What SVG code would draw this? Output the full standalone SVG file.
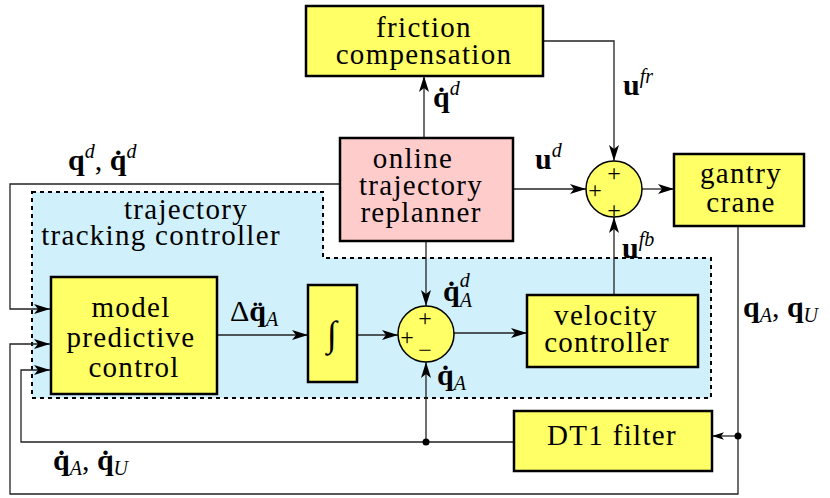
<svg xmlns="http://www.w3.org/2000/svg" width="830" height="498" viewBox="0 0 830 498">
<style>
.box{fill:#ffff66;stroke:#000;stroke-width:2.5}
.pink{fill:#ffcccc}
.sum{fill:#ffff66;stroke:#000;stroke-width:1.5}
.ln{fill:none;stroke:#222;stroke-width:1.3}
text{font-family:'Liberation Serif','Times New Roman',serif}
.t{font-size:29px;letter-spacing:1.3px;text-anchor:middle;fill:#000}
.m{font-size:30px;fill:#000}
.b{font-weight:bold}
.i{font-style:italic;font-size:20px}
.pm{font-size:24px;text-anchor:middle;fill:#000}
</style>
<defs>
<marker id="ar" viewBox="0 0 16 10" refX="16" refY="5" markerWidth="16" markerHeight="10" markerUnits="userSpaceOnUse" orient="auto"><path d="M0,0 L16,5 L0,10 L4,5 z" fill="#000"/></marker>
<marker id="ars" viewBox="0 0 16 10" refX="16" refY="5" markerWidth="12" markerHeight="8" markerUnits="userSpaceOnUse" orient="auto"><path d="M0,0 L16,5 L0,10 L4,5 z" fill="#000"/></marker>
</defs>
<g id="tracking-controller">
<path d="M32,192 H323 V258 H711 V398 H32 Z" fill="#d0f0fc" stroke="#000" stroke-width="2" stroke-dasharray="4 4"/>
<text class="t" x="186" y="219">trajectory</text>
<text class="t" x="161" y="245">tracking controller</text>
</g>
<g id="connectors">
<path class="ln" d="M424,138 V76" marker-end="url(#ar)"/>
<path class="ln" d="M543,41 H614 V161" marker-end="url(#ar)"/>
<path class="ln" d="M513,189 H586" marker-end="url(#ar)"/>
<path class="ln" d="M642,189 H674" marker-end="url(#ar)"/>
<path class="ln" d="M614,295 V217" marker-end="url(#ar)"/>
<path class="ln" d="M426,241 V306" marker-end="url(#ar)"/>
<path class="ln" d="M217,335 H308" marker-end="url(#ar)"/>
<path class="ln" d="M357,335 H398" marker-end="url(#ar)"/>
<path class="ln" d="M454,333 H527" marker-end="url(#ar)"/>
<path class="ln" d="M738,226 V494 H10 V344 H50" marker-end="url(#ar)"/>
<path class="ln" d="M738,436 H712" marker-end="url(#ars)"/>
<path class="ln" d="M514,442 H21 V370 H50" marker-end="url(#ar)"/>
<path class="ln" d="M426,442 V362" marker-end="url(#ar)"/>
<path class="ln" d="M340,184 H10 V309 H50" marker-end="url(#ar)"/>
<circle cx="738" cy="436" r="3.5" fill="#000"/>
<circle cx="426" cy="442" r="3.5" fill="#000"/>
</g>
<g id="friction-compensation">
<rect class="box" x="306" y="6" width="237" height="70"/>
<text class="t" x="424" y="37">friction</text>
<text class="t" x="424" y="64">compensation</text>
</g>
<g id="online-trajectory-replanner">
<rect class="box pink" x="340" y="138" width="173" height="103"/>
<text class="t" x="413" y="168">online</text>
<text class="t" x="421" y="195">trajectory</text>
<text class="t" x="421" y="222">replanner</text>
</g>
<g id="sum-top">
<circle class="sum" cx="614" cy="189" r="28"/>
<text class="pm" x="614" y="181">+</text>
<text class="pm" x="595" y="198">+</text>
<text class="pm" x="614" y="218">+</text>
</g>
<g id="gantry-crane">
<rect class="box" x="674" y="154" width="130" height="72"/>
<text class="t" x="741" y="183">gantry</text>
<text class="t" x="741" y="212">crane</text>
</g>
<g id="model-predictive-control">
<rect class="box" x="51" y="277" width="166" height="117"/>
<text class="t" x="131" y="317">model</text>
<text class="t" x="131" y="347">predictive</text>
<text class="t" x="134" y="377">control</text>
</g>
<g id="integrator">
<rect class="box" x="308" y="285" width="49" height="97"/>
<text x="332" y="346" font-size="36" text-anchor="middle" font-style="italic">∫</text>
</g>
<g id="sum-bottom">
<circle class="sum" cx="426" cy="334" r="28"/>
<text class="pm" x="425" y="326">+</text>
<text class="pm" x="407" y="345">+</text>
<text class="pm" x="425" y="358">−</text>
</g>
<g id="velocity-controller">
<rect class="box" x="527" y="295" width="171" height="72"/>
<text class="t" x="606" y="325">velocity</text>
<text class="t" x="607" y="352">controller</text>
</g>
<g id="dt1-filter">
<rect class="box" x="514" y="411" width="198" height="60"/>
<text class="t" x="612" y="445">DT1 filter</text>
</g>
<g id="labels">
<text class="m" x="68" y="170"><tspan class="b">q</tspan><tspan class="i" dy="-12">d</tspan><tspan dy="12">, </tspan><tspan class="b">q̇</tspan><tspan class="i" dy="-12">d</tspan></text>
<text class="m" x="433" y="107"><tspan class="b">q̇</tspan><tspan class="i" dy="-12">d</tspan></text>
<text class="m" x="623" y="95"><tspan class="b">u</tspan><tspan class="i" dy="-12">fr</tspan></text>
<text class="m" x="535" y="169"><tspan class="b">u</tspan><tspan class="i" dy="-12">d</tspan></text>
<text class="m" x="622" y="258"><tspan class="b">u</tspan><tspan class="i" dy="-12">fb</tspan></text>
<text class="m" x="230" y="321">Δ<tspan class="b">q̈</tspan><tspan class="i" dy="5">A</tspan></text>
<text class="m" x="443" y="301"><tspan class="b">q̇</tspan><tspan class="i" dy="-14">d</tspan><tspan class="i" dx="-10" dy="20">A</tspan></text>
<text class="m" x="437" y="385"><tspan class="b">q̇</tspan><tspan class="i" dy="5">A</tspan></text>
<text class="m" x="743" y="317"><tspan class="b">q</tspan><tspan class="i" dy="5">A</tspan><tspan dy="-5">, </tspan><tspan class="b">q</tspan><tspan class="i" dy="5">U</tspan></text>
<text class="m" x="53" y="470"><tspan class="b">q̇</tspan><tspan class="i" dy="5">A</tspan><tspan dy="-5">, </tspan><tspan class="b">q̇</tspan><tspan class="i" dy="5">U</tspan></text>
</g>
</svg>
